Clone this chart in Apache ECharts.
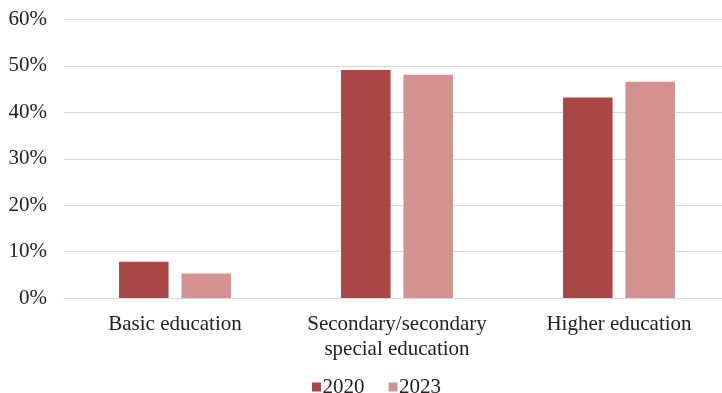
<!DOCTYPE html>
<html>
<head>
<meta charset="utf-8">
<script src="https://cdn.jsdelivr.net/npm/echarts@6/dist/echarts.min.js"></script>
<style>
  html, body { margin: 0; padding: 0; background: #ffffff; overflow: hidden; }
  #wrap { width: 722px; height: 393px; overflow: hidden; }
  #chart { width: 732px; height: 393px; }
</style>
</head>
<body>
<div id="wrap"><div id="chart"></div></div>
<script>
// Education level shares by survey year
const categories = ['Basic education', 'Secondary/secondary\nspecial education', 'Higher education'];
const years = ['2020', '2023'];
const values2020 = [7.8, 49.1, 43.2];
const values2023 = [5.3, 48.1, 46.6];
const yTicks = [0, 10, 20, 30, 40, 50, 60];

const colors = ['#A94646', '#D39191'];
const font = '"Liberation Serif", "Times New Roman", serif';

const chart = echarts.init(document.getElementById('chart'));
chart.setOption({
  animation: false,
  textStyle: { fontFamily: font },
  grid: { left: 64, top: 19.5, width: 666, height: 278.5, containLabel: false },
  legend: {
    data: years,
    top: 376.5,
    left: 312,
    padding: 0,
    itemWidth: 9,
    itemHeight: 9,
    itemGap: 24,
    icon: 'rect',
    textStyle: { fontFamily: font, fontSize: 21, color: '#222222', padding: [0, 0, 0, -3.5] }
  },
  xAxis: {
    type: 'category',
    data: categories,
    axisTick: { show: false },
    axisLine: { lineStyle: { color: '#d9d9d9', width: 1.2 } },
    axisLabel: {
      margin: 14,
      fontFamily: font,
      fontSize: 21,
      color: '#222222',
      lineHeight: 25,
      interval: 0
    }
  },
  yAxis: {
    type: 'value',
    min: yTicks[0],
    max: yTicks[yTicks.length - 1],
    interval: 10,
    axisLine: { show: false },
    axisTick: { show: false },
    splitLine: { lineStyle: { color: '#d9d9d9', width: 1.2 } },
    axisLabel: {
      margin: 17,
      fontFamily: font,
      fontSize: 21,
      color: '#222222',
      formatter: v => v + '%'
    }
  },
  series: [
    {
      name: years[0],
      type: 'bar',
      data: values2020,
      barWidth: 49.5,
      barGap: '26%',
      itemStyle: { color: colors[0] }
    },
    {
      name: years[1],
      type: 'bar',
      data: values2023,
      barWidth: 49.5,
      itemStyle: { color: colors[1] }
    }
  ]
});
</script>
</body>
</html>
